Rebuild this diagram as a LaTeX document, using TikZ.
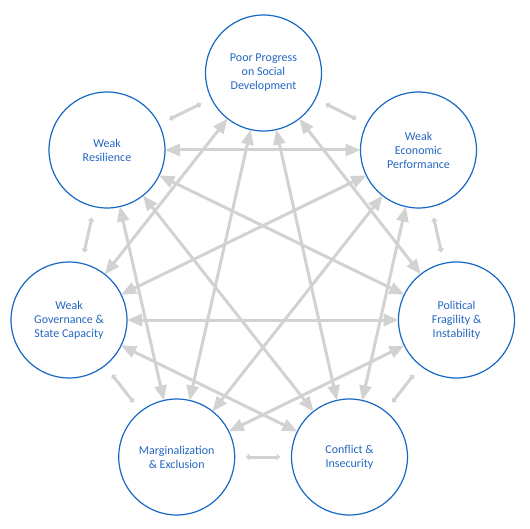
\documentclass[tikz,border=0pt]{standalone}
\usepackage{fontspec}
\setmainfont{Carlito}
\usetikzlibrary{arrows.meta}
\definecolor{cblue}{RGB}{24,104,198}
\definecolor{tblue}{RGB}{36,102,192}
\definecolor{agray}{RGB}{210,210,210}
\begin{document}
\begin{tikzpicture}[x=1pt,y=-1pt,
 factor/.style={circle,draw=cblue,line width=1.2pt,minimum size=116pt,inner sep=0pt,outer sep=0pt,align=center,text=tblue,font=\fontsize{12}{14}\selectfont},
 longlink/.style={agray,line width=3pt,{Triangle[length=15pt,width=12pt]}-{Triangle[length=15pt,width=12pt]}},
 shortlink/.style={agray,line width=3pt,{Triangle[length=4pt,width=6.5pt]}-{Triangle[length=4pt,width=6.5pt]},shorten <=11pt,shorten >=11pt}]
\useasboundingbox (0,0) rectangle (530,529);
\node[factor] (P) at (263.5,73) {Poor Progress\\on Social\\Development};
\node[factor] (E) at (418.5,150) {Weak\\Economic\\Performance};
\node[factor] (F) at (456.5,320) {Political\\Fragility \&\\Instability};
\node[factor] (C) at (349.5,457) {Conflict \&\\Insecurity};
\node[factor] (M) at (176.7,457) {Marginalization\\\& Exclusion};
\node[factor] (G) at (69,320) {Weak\\Governance \&\\State Capacity};
\node[factor] (R) at (107,150) {Weak\\Resilience};
% adjacent links
\draw[shortlink] (P) -- (E);
\draw[shortlink] (E) -- (F);
\draw[shortlink] (F) -- (C);
\draw[shortlink] (C) -- (M);
\draw[shortlink] (M) -- (G);
\draw[shortlink] (G) -- (R);
\draw[shortlink] (R) -- (P);
% long links
\draw[longlink] (P) -- (G);
\draw[longlink] (P) -- (M);
\draw[longlink] (P) -- (C);
\draw[longlink] (P) -- (F);
\draw[longlink] (R) -- (E);
\draw[longlink] (R) -- (F);
\draw[longlink] (R) -- (C);
\draw[longlink] (R) -- (M);
\draw[longlink] (E) -- (G);
\draw[longlink] (E) -- (M);
\draw[longlink] (E) -- (C);
\draw[longlink] (F) -- (G);
\draw[longlink] (F) -- (M);
\draw[longlink] (G) -- (C);
\end{tikzpicture}
\end{document}
